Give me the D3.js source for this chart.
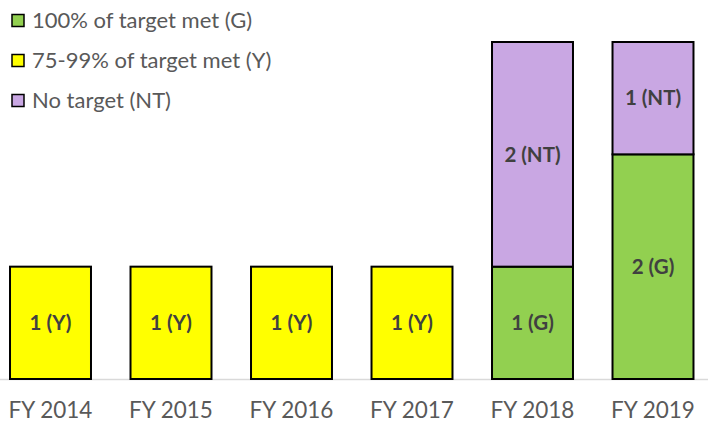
<!DOCTYPE html>
<html>
<head>
<meta charset="utf-8">
<script src="https://cdn.jsdelivr.net/npm/d3@7"></script>
<style>
  body { margin: 0; background: #fff; }
  svg { display: block; font-family: Lato, "Open Sans", sans-serif; }
</style>
</head>
<body>
<svg id="chart" width="708" height="423"></svg>
<script>
// data
var years = ['FY 2014', 'FY 2015', 'FY 2016', 'FY 2017', 'FY 2018', 'FY 2019'];
var greenVals = [0, 0, 0, 0, 1, 2];
var yellowVals = [1, 1, 1, 1, 0, 0];
var noTargetVals = [0, 0, 0, 0, 2, 1];

var seriesKeys = ['G', 'Y', 'NT'];
var seriesNames = ['100% of target met (G)', '75-99% of target met (Y)', 'No target (NT)'];
var seriesColors = ['#92d050', '#ffff00', '#c9a7e3'];

var rows = years.map(function (y, i) {
  return { year: y, G: greenVals[i], Y: yellowVals[i], NT: noTargetVals[i] };
});

var svg = d3.select('#chart');
var baseY = 379;

var x = d3.scaleBand()
  .domain(years)
  .range([-9.75, 713.25])
  .paddingInner(0.328)
  .paddingOuter(0.164);

var y = d3.scaleLinear()
  .domain([0, 3])
  .range([baseY, 42]);

var stacked = d3.stack().keys(seriesKeys)(rows);

// baseline
svg.append('line')
  .attr('x1', 0).attr('x2', 708)
  .attr('y1', baseY + 0.5).attr('y2', baseY + 0.5)
  .attr('stroke', '#d9d9d9').attr('stroke-width', 1.5);

var layers = svg.selectAll('g.layer')
  .data(stacked)
  .enter().append('g')
  .attr('class', 'layer')
  .attr('fill', function (d, i) { return seriesColors[i]; });

layers.selectAll('rect')
  .data(function (d) { return d.filter(function (s) { return s[1] > s[0]; }); })
  .enter().append('rect')
  .attr('x', function (d) { return x(d.data.year); })
  .attr('width', x.bandwidth())
  .attr('y', function (d) { return y(d[1]); })
  .attr('height', function (d) { return y(d[0]) - y(d[1]); })
  .attr('stroke', '#000')
  .attr('stroke-width', 2);

layers.each(function (layer) {
  var key = layer.key;
  d3.select(this).selectAll('text')
    .data(layer.filter(function (s) { return s[1] > s[0]; }))
    .enter().append('text')
    .attr('x', function (d) { return x(d.data.year) + x.bandwidth() / 2; })
    .attr('y', function (d) { return (y(d[0]) + y(d[1])) / 2; })
    .attr('dy', '0.35em')
    .attr('text-anchor', 'middle')
    .attr('fill', '#404040')
    .attr('font-size', 20.5)
    .attr('font-weight', 'bold')
    .text(function (d) { return (d[1] - d[0]) + ' (' + key + ')'; });
});

// x axis labels
var xAxis = d3.axisBottom(x).tickSize(0).tickPadding(0);
var axisG = svg.append('g')
  .attr('transform', 'translate(0,' + 402 + ')')
  .call(xAxis);
axisG.select('.domain').remove();
axisG.selectAll('text')
  .attr('font-family', 'Lato, "Open Sans", sans-serif')
  .attr('font-size', 22.5)
  .attr('fill', '#595959');

// legend
var legend = svg.selectAll('g.legend')
  .data(seriesNames)
  .enter().append('g')
  .attr('class', 'legend')
  .attr('transform', function (d, i) { return 'translate(12,' + (21 + i * 40) + ')'; });

legend.append('rect')
  .attr('x', 0).attr('y', -6.5)
  .attr('width', 12).attr('height', 12)
  .attr('fill', function (d, i) { return seriesColors[i]; })
  .attr('stroke', '#000')
  .attr('stroke-width', 1.5);

legend.append('text')
  .attr('x', 20)
  .attr('y', 0)
  .attr('dy', '0.33em')
  .attr('font-size', 22)
  .attr('fill', '#595959')
  .text(function (d) { return d; });
</script>
</body>
</html>
